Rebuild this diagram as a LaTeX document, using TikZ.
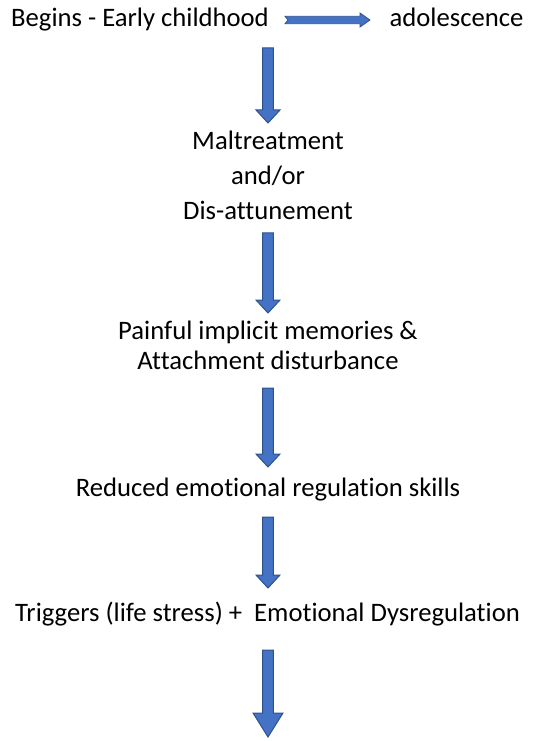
\documentclass[tikz,border=0pt]{standalone}
\usepackage{fontspec}
\setmainfont{Carlito}[Ligatures=NoCommon]
\usetikzlibrary{calc}

\definecolor{arrowfill}{HTML}{4472C4}
\definecolor{arrowedge}{HTML}{2F528F}

\tikzset{
  headhw/.store in=\headhw, headlen/.store in=\headlen,
  headhw=9pt, headlen=9.75pt,
  lbl/.style={anchor=base, inner sep=0pt},
  % block arrow pointing down, from top of shaft to tip
  downblock/.style={fill=arrowfill, draw=arrowedge, line width=0.75pt,
    to path={let \p1=(\tikztostart), \p2=(\tikztotarget) in
      (\x1-4.1pt,\y1) -- (\x1+4.1pt,\y1) -- (\x1+4.1pt,\y2+\headlen)
      -- (\x1+\headhw,\y2+\headlen) -- (\x2,\y2) -- (\x1-\headhw,\y2+\headlen)
      -- (\x1-4.1pt,\y2+\headlen) -- cycle}},
  % notched block arrow pointing right
  rightblock/.style={fill=arrowfill, draw=arrowedge, line width=0.6pt,
    to path={let \p1=(\tikztostart), \p2=(\tikztotarget) in
      (\x1,\y1+2.8pt) -- (\x2-7.5pt,\y1+2.8pt) -- (\x2-7.5pt,\y1+5.25pt)
      -- (\x2,\y2) -- (\x2-7.5pt,\y1-5.25pt) -- (\x2-7.5pt,\y1-2.8pt)
      -- (\x1,\y1-2.8pt) -- (\x1+2.25pt,\y1) -- cycle}}
}

\begin{document}
\begin{tikzpicture}[x=0.75pt,y=-0.75pt,font=\fontsize{20}{24}\selectfont]
\useasboundingbox (0,0) rectangle (532,741);

% texts
\node[lbl] (begins) at (140,27) {Begins - Early childhood};
\node[lbl] (adol) at (456.5,27) {adolescence};
\node[lbl] (mal1) at (268,150) {Maltreatment};
\node[lbl] (mal2) at (268,185) {and/or};
\node[lbl] (mal3) at (268,220) {Dis-attunement};
\node[lbl] (pain1) at (268,339) {Painful implicit memories \&};
\node[lbl] (pain2) at (268,369) {Attachment disturbance};
\node[lbl] (reduced) at (268,496) {Reduced emotional regulation skills};
\node[lbl] (trig) at (267.5,621) {Triggers (life stress) + \ Emotional Dysregulation};

% arrow ends
\coordinate (h1) at (285,20);
\coordinate (h2) at (370,20);
\foreach \i/\t/\e in {1/48/123, 2/233/313, 3/388/467, 4/517/588} {
  \coordinate (a\i) at (268,\t);
  \coordinate (b\i) at (268,\e);
}
\coordinate (a5) at (268,650);
\coordinate (b5) at (268,737);

% arrows
\draw[rightblock] (h1) to (h2);
\foreach \i in {1,2,3,4} {
  \draw[downblock] (a\i) to (b\i);
}
\draw[downblock, headhw=11.25pt, headlen=18pt] (a5) to (b5);
\end{tikzpicture}
\end{document}
